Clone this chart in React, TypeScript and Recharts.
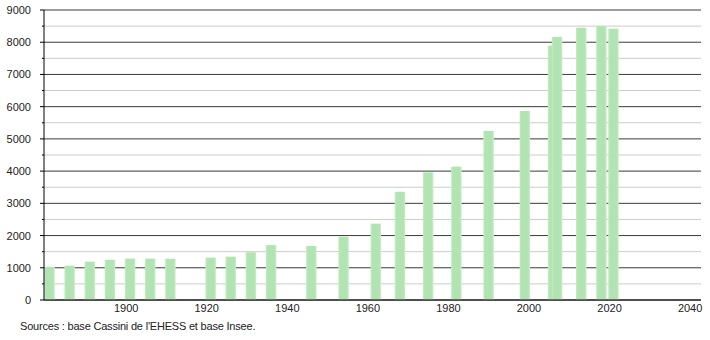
import { BarChart, Bar, XAxis, YAxis, CartesianGrid } from "recharts";

const years = [
  1881, 1886, 1891, 1896, 1901, 1906, 1911, 1921, 1926, 1931, 1936, 1946,
  1954, 1962, 1968, 1975, 1982, 1990, 1999, 2006, 2007, 2013, 2018, 2021,
];
const population = [
  1030, 1065, 1190, 1250, 1285, 1285, 1280, 1315, 1345, 1480, 1705, 1680,
  1965, 2370, 3360, 3960, 4140, 5245, 5865, 7895, 8165, 8450, 8505, 8420,
];
const yTicks = [
  0, 500, 1000, 1500, 2000, 2500, 3000, 3500, 4000, 4500, 5000, 5500, 6000,
  6500, 7000, 7500, 8000, 8500, 9000,
];
const xTicks = [1900, 1920, 1940, 1960, 1980, 2000, 2020, 2040];

const data = years.map((year, i) => ({ year, pop: population[i] }));

const font = "'Liberation Sans', Arial, sans-serif";
const BAR_W = 10.5;

function GridLine(props: any) {
  const { x1, x2, y1, index } = props;
  const major = index % 2 === 0;
  return (
    <g key={`g-${index}`}>
      <line
        x1={x1}
        x2={x2}
        y1={y1}
        y2={y1}
        stroke={major ? "#3a3a3a" : "#cccccc"}
        strokeWidth={1}
      />
      <line
        x1={x1 - (major ? 4 : 2)}
        x2={x1}
        y1={y1}
        y2={y1}
        stroke="#000"
        strokeWidth={1}
      />
    </g>
  );
}

function YTick(props: any) {
  const { x, y, payload } = props;
  if (payload.value % 1000 !== 0) return null;
  return (
    <text
      x={x}
      y={y}
      dy="0.36em"
      textAnchor="end"
      fontSize={11}
      fill="#222"
      fontFamily={font}
    >
      {payload.value}
    </text>
  );
}

// recharts squeezes the bars because 2006/2007 are only a year apart,
// so keep its centre and draw the wider bar ourselves
function WideBar(props: any) {
  const { x, y, width, height } = props;
  if (height == null || height <= 0) return null;
  const cx = x + width / 2;
  return (
    <rect
      x={cx - BAR_W / 2}
      y={y}
      width={BAR_W}
      height={height}
      fill="url(#barFill)"
    />
  );
}

export default function App() {
  return (
    <div
      style={{
        position: "absolute",
        left: 0,
        top: 0,
        width: 710,
        height: 340,
        background: "#fff",
        fontFamily: font,
      }}
    >
      <BarChart
        width={710}
        height={320}
        data={data}
        margin={{ top: 10, right: 9, left: 0, bottom: 0 }}
      >
        <defs>
          <linearGradient id="barFill" x1="0" y1="0" x2="1" y2="0">
            <stop offset="0%" stopColor="#c6ecc6" />
            <stop offset="18%" stopColor="#b2e3b2" />
            <stop offset="82%" stopColor="#b2e3b2" />
            <stop offset="100%" stopColor="#cdeecd" />
          </linearGradient>
        </defs>
        <CartesianGrid vertical={false} horizontal={GridLine} />
        <XAxis
          dataKey="year"
          type="number"
          domain={[1879.6, 2042.7]}
          ticks={xTicks}
          allowDataOverflow
          axisLine={{ stroke: "#000", strokeWidth: 1 }}
          tickLine={false}
          tickSize={0}
          tickMargin={4}
          height={20}
          tick={{ fontSize: 11, fill: "#222", fontFamily: font }}
          interval={0}
        />
        <YAxis
          type="number"
          domain={[0, 9000]}
          ticks={yTicks}
          interval={0}
          width={44}
          axisLine={{ stroke: "#000", strokeWidth: 1 }}
          tickLine={false}
          tickSize={0}
          tickMargin={13}
          tick={<YTick />}
        />
        <Bar
          dataKey="pop"
          fill="url(#barFill)"
          shape={<WideBar />}
          isAnimationActive={false}
        />
      </BarChart>
      <div
        style={{
          position: "absolute",
          left: 20,
          top: 320,
          fontSize: 11,
          color: "#222",
          fontFamily: font,
          letterSpacing: -0.2,
        }}
      >
        Sources : base Cassini de l'EHESS et base Insee.
      </div>
    </div>
  );
}
